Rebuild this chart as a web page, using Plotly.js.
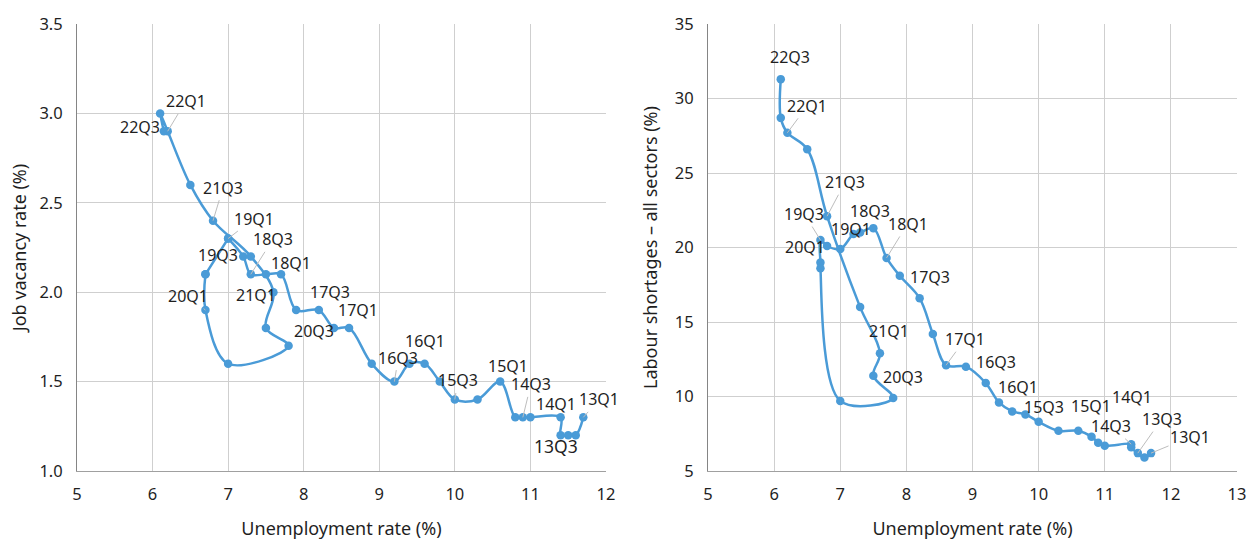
<!DOCTYPE html>
<html>
<head>
<meta charset="utf-8">
<script src="https://cdn.plot.ly/plotly-3.0.1.min.js"></script>
<style>
  html, body { margin: 0; padding: 0; background: #ffffff; }
  #chart { width: 1259px; height: 540px; }
</style>
</head>
<body>
<div id="chart"></div>
<script>
// ---------------- DATA ----------------
const quarters = ['13Q1','13Q2','13Q3','13Q4','14Q1','14Q2','14Q3','14Q4',
                  '15Q1','15Q2','15Q3','15Q4','16Q1','16Q2','16Q3','16Q4',
                  '17Q1','17Q2','17Q3','17Q4','18Q1','18Q2','18Q3','18Q4',
                  '19Q1','19Q2','19Q3','19Q4','20Q1','20Q2','20Q3','20Q4',
                  '21Q1','21Q2','21Q3','21Q4','22Q1','22Q2','22Q3'];

// Left panel: unemployment rate (%) vs job vacancy rate (%)
const unemploymentJV = [11.7, 11.6, 11.5, 11.4, 11.4, 11.0, 10.9, 10.8,
                        10.6, 10.3, 10.0, 9.8, 9.6, 9.4, 9.2, 8.9,
                        8.6, 8.4, 8.2, 7.9, 7.7, 7.5, 7.3, 7.2,
                        7.0, 7.0, 6.7, 6.7, 6.7, 7.0, 7.8, 7.5,
                        7.6, 7.3, 6.8, 6.5, 6.2, 6.1, 6.15];
const jobVacancy = [1.3, 1.2, 1.2, 1.2, 1.3, 1.3, 1.3, 1.3,
                    1.5, 1.4, 1.4, 1.5, 1.6, 1.6, 1.5, 1.6,
                    1.8, 1.8, 1.9, 1.9, 2.1, 2.1, 2.1, 2.2,
                    2.3, 2.3, 2.1, 2.1, 1.9, 1.6, 1.7, 1.8,
                    2.0, 2.2, 2.4, 2.6, 2.9, 3.0, 2.9];

// Right panel: unemployment rate (%) vs labour shortages, all sectors (%)
const unemploymentLS = [11.7, 11.6, 11.5, 11.4, 11.4, 11.0, 10.9, 10.8,
                        10.6, 10.3, 10.0, 9.8, 9.6, 9.4, 9.2, 8.9,
                        8.6, 8.4, 8.2, 7.9, 7.7, 7.5, 7.3, 7.2,
                        7.0, 6.8, 6.7, 6.7, 6.7, 7.0, 7.8, 7.5,
                        7.6, 7.3, 6.8, 6.5, 6.2, 6.1, 6.1];
const labourShortages = [6.2, 5.9, 6.2, 6.6, 6.8, 6.7, 6.9, 7.3,
                         7.7, 7.7, 8.3, 8.8, 9.0, 9.6, 10.9, 12.0,
                         12.1, 14.2, 16.6, 18.1, 19.3, 21.3, 21.0, 20.9,
                         19.9, 20.1, 20.5, 19.0, 18.6, 9.7, 9.9, 11.4,
                         12.9, 16.0, 22.1, 26.6, 27.7, 28.7, 31.3];

const xTitle = 'Unemployment rate (%)';
const yTitleLeft = 'Job vacancy rate (%)';
const yTitleRight = 'Labour shortages \u2013 all sectors (%)';

// ---------------- LABEL PLACEMENT (styling) ----------------
// [label text, anchor quarter, dx px, dy px, leader line]
const labelsLeft = [
  ['22Q1','22Q1', 18,-30, true],
  ['22Q3','22Q3',-24, -4, false],
  ['21Q3','21Q3', 10,-33, true],
  ['19Q1','19Q1', 26,-20, true],
  ['18Q3','18Q3', 22,-35, true],
  ['18Q1','18Q1', 10,-11, false],
  ['19Q3','19Q3', 13,-19, false],
  ['20Q1','20Q1',-17,-14, true],
  ['21Q1','21Q1',-17,  3, false],
  ['17Q3','17Q3', 11,-18, false],
  ['17Q1','17Q1',  9,-18, false],
  ['20Q3','20Q3', 25,-15, false],
  ['16Q3','16Q3',  4,-24, true],
  ['16Q1','16Q1',  0,-23, false],
  ['15Q3','15Q3',  3,-19, true],
  ['15Q1','15Q1',  8,-16, false],
  ['14Q3','14Q3',  8,-33, true],
  ['14Q1','14Q1', -5,-13, false],
  ['13Q1','13Q1', 16,-18, true],
  ['13Q3','13Q3',-12, 11, true]
];
const labelsRight = [
  ['22Q3','22Q3',  9,-22, false],
  ['22Q1','22Q1', 20,-27, true],
  ['21Q3','21Q3', 18,-34, true],
  ['19Q3','19Q3',-16,-26, true],
  ['18Q3','18Q3', 10,-22, false],
  ['18Q1','18Q1', 21,-34, true],
  ['19Q1','19Q1', 11,-20, false],
  ['20Q1','20Q1',-15,-21, false],
  ['17Q3','17Q3', 10,-21, false],
  ['21Q1','21Q1',  9,-22, false],
  ['20Q3','20Q3', 10,-21, false],
  ['17Q1','17Q1', 19,-26, true],
  ['16Q3','16Q3', 10,-21, false],
  ['16Q1','16Q1',  6,-24, false],
  ['15Q3','15Q3',  5,-15, false],
  ['15Q1','15Q1', 13,-25, false],
  ['14Q1','14Q1',  1,-47, false],
  ['14Q3','14Q1',-20,-18, true],
  ['13Q3','13Q3', 24,-34, true],
  ['13Q1','13Q1', 39,-16, true]
];

// ---------------- STYLE ----------------
const BLUE = '#4a9bd7';
const FONT = 'Noto Sans, Open Sans, sans-serif';
const TXT = '#1f1f1f';
const GRID = '#cfcfcf';

function trace(x, y, xa, ya) {
  return {
    type: 'scatter', mode: 'lines+markers',
    x: x, y: y, xaxis: xa, yaxis: ya,
    line: { color: BLUE, width: 2.5, shape: 'spline', smoothing: 1 },
    marker: { color: BLUE, size: 8.5 },
    hoverinfo: 'skip', showlegend: false, cliponaxis: false
  };
}

function makeLabels(list, xs, ys, xref, yref) {
  return list.map(function (l) {
    const i = quarters.indexOf(l[1]);
    return {
      text: l[0], x: xs[i], y: ys[i], xref: xref, yref: yref,
      ax: l[2], ay: l[3], showarrow: true, arrowhead: 0,
      arrowwidth: 1, standoff: 0,
      arrowcolor: l[4] ? '#bdbdbd' : 'rgba(0,0,0,0)',
      font: { family: FONT, size: (l[0] === '13Q3' && xref === 'x') ? 17.5 : 16, color: TXT }
    };
  });
}

function xAxis(domain, range, anchor) {
  return {
    domain: domain, range: range, dtick: 1, tick0: 0, anchor: anchor,
    showgrid: true, gridcolor: GRID, gridwidth: 1, zeroline: false,
    showline: true, linecolor: '#a0a0a0', linewidth: 1,
    ticks: '', ticklabelstandoff: 8,
    tickfont: { family: FONT, size: 16.5, color: TXT },
    title: { text: xTitle, font: { family: FONT, size: 18, color: TXT }, standoff: 18 },
    fixedrange: true
  };
}
function yAxis(range, dtick, fmt, title, anchor, standoff) {
  return {
    range: range, dtick: dtick, tickformat: fmt, anchor: anchor,
    showgrid: true, gridcolor: GRID, gridwidth: 1, zeroline: false,
    showline: true, linecolor: '#858585', linewidth: 1,
    ticks: '', ticklabelstandoff: 10,
    tickfont: { family: FONT, size: 16.5, color: TXT },
    title: { text: title, font: { family: FONT, size: 18, color: TXT }, standoff: standoff },
    fixedrange: true
  };
}

const data = [
  trace(unemploymentJV, jobVacancy, 'x', 'y'),
  trace(unemploymentLS, labourShortages, 'x2', 'y2')
];

const layout = {
  width: 1259, height: 540,
  margin: { l: 77, r: 22, t: 24, b: 69, pad: 0 },
  paper_bgcolor: '#ffffff', plot_bgcolor: '#ffffff',
  xaxis: xAxis([0, 0.456], [5, 12], 'y'),
  yaxis: yAxis([1.0, 3.5], 0.5, '.1f', yTitleLeft, 'x', 8),
  xaxis2: xAxis([0.544, 1], [5, 13], 'y2'),
  yaxis2: yAxis([5, 35], 5, 'd', yTitleRight, 'x2', 12),
  annotations: makeLabels(labelsLeft, unemploymentJV, jobVacancy, 'x', 'y')
    .concat(makeLabels(labelsRight, unemploymentLS, labourShortages, 'x2', 'y2')),
  showlegend: false
};

Plotly.newPlot('chart', data, layout, { displayModeBar: false, staticPlot: true });
</script>
</body>
</html>
